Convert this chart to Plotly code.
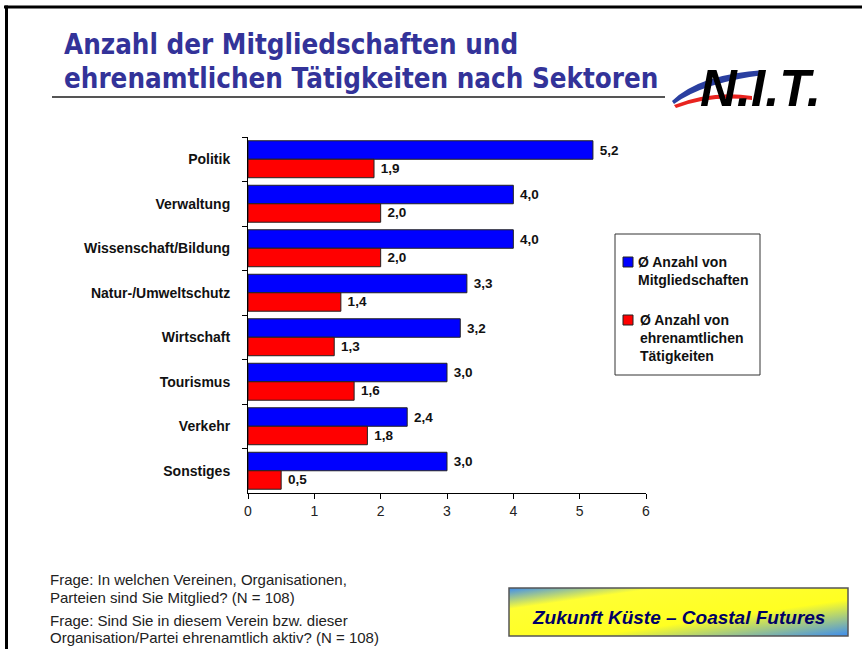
import base64
import plotly.graph_objects as go

categories = ["Politik", "Verwaltung", "Wissenschaft/Bildung", "Natur-/Umweltschutz",
              "Wirtschaft", "Tourismus", "Verkehr", "Sonstiges"]
mitglied = [5.2, 4.0, 4.0, 3.3, 3.2, 3.0, 2.4, 3.0]
ehrenamt = [1.9, 2.0, 2.0, 1.4, 1.3, 1.6, 1.8, 0.5]
series_names = ["Ø Anzahl von<br>Mitgliedschaften", "Ø Anzahl von<br>ehrenamtlichen<br>Tätigkeiten"]
x_ticks = [0, 1, 2, 3, 4, 5, 6]

W, H = 862, 649
L, R, T, B = 248, 646, 137, 493


def px(x):
    return (x - L) / (R - L)


def py(y):
    return (B - y) / (B - T)


SANS = "Liberation Sans, Arial, sans-serif"
NARROW = "Liberation Sans Narrow, Arial Narrow, DejaVu Sans Condensed, sans-serif"

fig = go.Figure()
fig.add_trace(go.Bar(
    y=categories, x=mitglied, orientation="h", name=series_names[0],
    marker=dict(color="#0000FF", line=dict(color="#222222", width=1)),
    texttemplate=" %{x:.1f}", textposition="outside", cliponaxis=False,
    constraintext="none", hoverinfo="skip",
    textfont=dict(family=SANS, size=13.5, color="#111111", weight="bold"),
))
fig.add_trace(go.Bar(
    y=categories, x=ehrenamt, orientation="h", name=series_names[1],
    marker=dict(color="#FF0000", line=dict(color="#222222", width=1)),
    texttemplate=" %{x:.1f}", textposition="outside", cliponaxis=False,
    constraintext="none", hoverinfo="skip",
    textfont=dict(family=SANS, size=13.5, color="#111111", weight="bold"),
))

shapes = []
annotations = []

# slide frame
shapes.append(dict(type="line", xref="paper", yref="paper", x0=px(4), x1=px(870), y0=py(7), y1=py(7),
                   line=dict(color="black", width=3)))
shapes.append(dict(type="line", xref="paper", yref="paper", x0=px(6.5), x1=px(6.5), y0=py(5.5), y1=py(660),
                   line=dict(color="black", width=3)))

# title
annotations.append(dict(text="Anzahl der Mitgliedschaften und", x=px(62), y=py(44), xref="paper", yref="paper",
                        xanchor="left", yanchor="middle", showarrow=False,
                        font=dict(family=NARROW, size=27.5, color="#333399", weight="bold")))
annotations.append(dict(text="ehrenamtlichen Tätigkeiten nach Sektoren", x=px(62), y=py(78), xref="paper",
                        yref="paper", xanchor="left", yanchor="middle", showarrow=False,
                        font=dict(family=NARROW, size=27.5, color="#333399", weight="bold")))
shapes.append(dict(type="line", xref="paper", yref="paper", x0=px(52), x1=px(665), y0=py(97), y1=py(97),
                   line=dict(color="#555555", width=2)))


# logo swooshes + text
def path(points):
    s = ""
    for cmd, pts in points:
        s += cmd + " " + " ".join(f"{px(a):.5f},{py(b):.5f}" for a, b in pts) + " "
    return s + "Z"


shapes.append(dict(type="path", xref="paper", yref="paper",
                   path=path([("M", [(672, 101)]), ("Q", [(700, 74), (765, 70)]), ("L", [(765, 75)]),
                              ("Q", [(705, 82), (674, 104)])]),
                   fillcolor="#2A3FA0", line=dict(width=0)))
shapes.append(dict(type="path", xref="paper", yref="paper",
                   path=path([("M", [(674, 105)]), ("Q", [(712, 90), (752, 96)]), ("L", [(752, 100)]),
                              ("Q", [(712, 95), (676, 108)])]),
                   fillcolor="#E8231F", line=dict(width=0)))
annotations.append(dict(text="<i>N.I.T.</i>", x=px(698), y=py(88), xref="paper", yref="paper",
                        xanchor="left", yanchor="middle", showarrow=False,
                        font=dict(family=SANS, size=51, color="#000000", weight="bold")))

# legend box (manual)
shapes.append(dict(type="rect", xref="paper", yref="paper", x0=px(615), x1=px(760), y0=py(234), y1=py(375),
                   line=dict(color="#333333", width=1), fillcolor="white"))
shapes.append(dict(type="rect", xref="paper", yref="paper", x0=px(623), x1=px(633), y0=py(257), y1=py(267),
                   line=dict(color="#222222", width=1), fillcolor="#0000FF"))
shapes.append(dict(type="rect", xref="paper", yref="paper", x0=px(623), x1=px(633), y0=py(315), y1=py(325),
                   line=dict(color="#222222", width=1), fillcolor="#FF0000"))
annotations.append(dict(text=series_names[0], x=px(636), y=py(252), xref="paper", yref="paper",
                        xanchor="left", yanchor="top", align="left", showarrow=False,
                        font=dict(family=SANS, size=14, color="#111111", weight="bold")))
annotations.append(dict(text=series_names[1], x=px(638), y=py(310), xref="paper", yref="paper",
                        xanchor="left", yanchor="top", align="left", showarrow=False,
                        font=dict(family=SANS, size=14, color="#111111", weight="bold")))

# footnotes
foot = ["Frage: In welchen Vereinen, Organisationen,",
        "Parteien sind Sie Mitglied? (N = 108)",
        "Frage: Sind Sie in diesem Verein bzw. dieser",
        "Organisation/Partei ehrenamtlich aktiv? (N = 108)"]
for txt, yy in zip(foot, [579, 597, 620, 637]):
    annotations.append(dict(text=txt, x=px(48), y=py(yy), xref="paper", yref="paper",
                            xanchor="left", yanchor="middle", showarrow=False,
                            font=dict(family=SANS, size=15, color="#222222")))

# gradient box bottom right
svg = ('<svg xmlns="http://www.w3.org/2000/svg" width="340" height="48" viewBox="0 0 340 48" '
       'preserveAspectRatio="none"><defs><linearGradient id="g" x1="0" y1="0" x2="1" y2="1">'
       '<stop offset="0" stop-color="#3C8CF0"/><stop offset="0.22" stop-color="#FFFF33"/>'
       '<stop offset="0.62" stop-color="#FFFF22"/><stop offset="1" stop-color="#3C8CF0"/>'
       '</linearGradient></defs><rect x="0" y="0" width="340" height="48" fill="url(#g)"/></svg>')
src = "data:image/svg+xml;base64," + base64.b64encode(svg.encode()).decode()
fig.add_layout_image(dict(source=src, xref="paper", yref="paper", x=px(509), y=py(588),
                          sizex=px(848) - px(509), sizey=py(588) - py(636),
                          xanchor="left", yanchor="top", sizing="stretch", layer="below"))
shapes.append(dict(type="rect", xref="paper", yref="paper", x0=px(509), x1=px(848), y0=py(588), y1=py(636),
                   line=dict(color="#555555", width=1.5)))
annotations.append(dict(text="<i>Zukunft Küste – Coastal Futures</i>", x=px(678), y=py(617), xref="paper",
                        yref="paper", xanchor="center", yanchor="middle", showarrow=False,
                        font=dict(family=SANS, size=19, color="#000066", weight="bold")))

fig.update_layout(
    width=W, height=H,
    margin=dict(l=L, r=W - R, t=T, b=H - B, pad=0),
    paper_bgcolor="white", plot_bgcolor="white",
    barmode="group", bargap=0.17, bargroupgap=0,
    separators=",.",
    showlegend=False,
    shapes=shapes, annotations=annotations,
    font=dict(family=SANS),
)
fig.update_xaxes(range=[0, 6], tickvals=x_ticks, showgrid=False, zeroline=False,
                 showline=True, linecolor="black", linewidth=1, ticks="outside", ticklen=5,
                 tickcolor="black", tickfont=dict(family=SANS, size=14, color="#222222"))
fig.update_yaxes(categoryorder="array", categoryarray=categories, autorange="reversed",
                 showgrid=False, zeroline=False, showline=True, linecolor="black", linewidth=1,
                 ticks="outside", ticklen=5, tickcolor="black", tickson="boundaries",
                 ticklabelstandoff=14,
                 tickfont=dict(family=SANS, size=14, color="#111111", weight="bold"))

fig.write_html("out.html", config={"displayModeBar": False},
               post_script="document.body.style.margin='0';document.body.style.overflow='hidden';")
